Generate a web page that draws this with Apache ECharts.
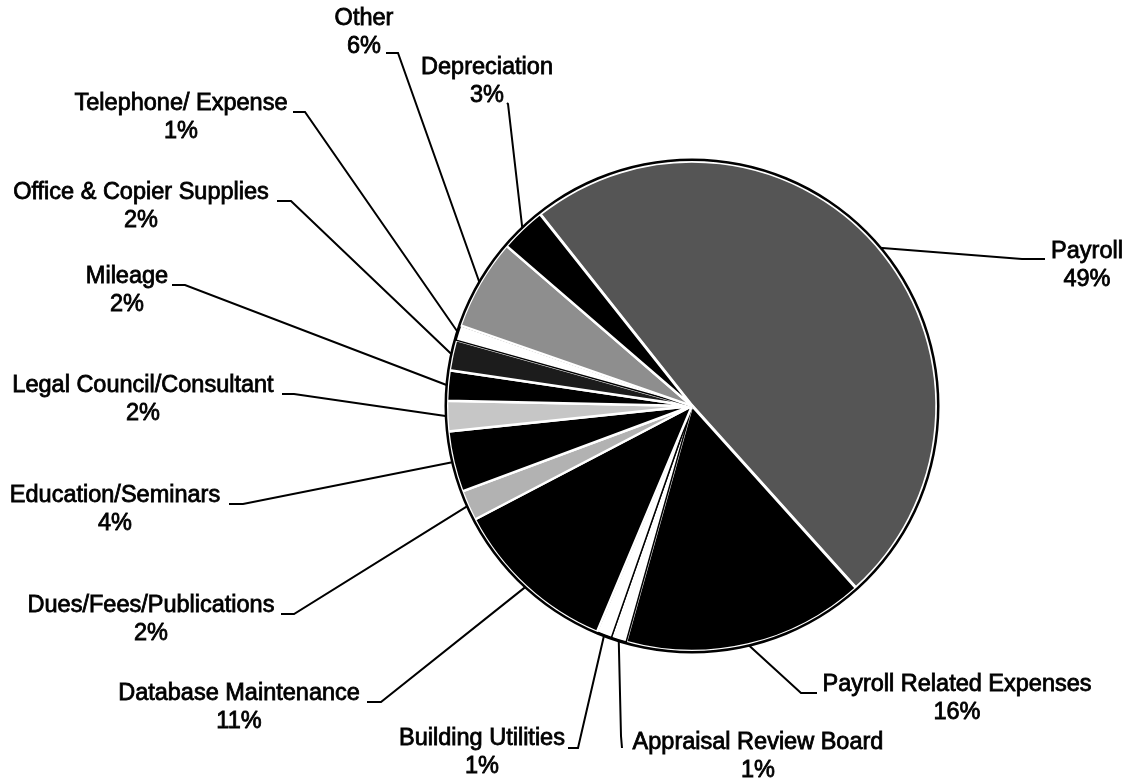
<!DOCTYPE html>
<html><head><meta charset="utf-8">
<script src="https://cdn.jsdelivr.net/npm/echarts@6/dist/echarts.min.js"></script>
<style>html,body{margin:0;padding:0;background:#fff}#c{width:1129px;height:780px}</style>
</head><body><div id="c"></div>
<script>
// Categories in clockwise order, starting with Payroll
const categories = ['Payroll','Payroll Related Expenses','Appraisal Review Board','Building Utilities','Database Maintenance','Dues/Fees/Publications','Education/Seminars','Legal Council/Consultant','Mileage','Office & Copier Supplies','Telephone/ Expense','Other','Depreciation'];
const percents = [49,16,1,1,11,2,4,2,2,2,1,6,3];
const sliceColors = ['#555555','#000000','#ffffff','#ffffff','#000000','#b2b2b2','#000000','#c6c6c6','#000000','#1c1c1c','#ffffff','#8e8e8e','#000000'];

// label placement (layout only): label block centre, leader elbow, leader end at text
const labelPlacement = [
  {cx:1087, cy:266,   elbow:[1022,259], end:[1045,259]},
  {cx:957,  cy:699,   elbow:[801,693],  end:[817,693]},
  {cx:758,  cy:757,   elbow:[621,736],  end:[622,748]},
  {cx:482,  cy:753,   elbow:[578,748],  end:[568,748]},
  {cx:239,  cy:707.5, elbow:[381,702],  end:[367,702]},
  {cx:151,  cy:619.5, elbow:[294,614],  end:[281,614]},
  {cx:115,  cy:510,   elbow:[243,504],  end:[229,504]},
  {cx:143,  cy:399.5, elbow:[294,394],  end:[282,394]},
  {cx:127,  cy:290.5, elbow:[185,285],  end:[172,285]},
  {cx:141,  cy:206.5, elbow:[291,201],  end:[277,201]},
  {cx:181,  cy:118,   elbow:[305,112],  end:[293,112]},
  {cx:364,  cy:33,    elbow:[398,53],   end:[386,53]},
  {cx:487,  cy:81.5,  elbow:[508,104],  end:[507,103]}
];

const pieData = categories.map((name, i) => {
  const white = sliceColors[i] === '#ffffff';
  return {
    name: name,
    value: percents[i],
    itemStyle: {
      color: sliceColors[i],
      borderColor: white ? '#000000' : '#ffffff',
      borderWidth: white ? 1.5 : (i === 0 ? 3.5 : 2.5)
    }
  };
});

const chart = echarts.init(document.getElementById('c'), null, {renderer:'canvas'});
chart.setOption({
  animation: false,
  backgroundColor: '#ffffff',
  series: [
    {
      type: 'pie',
      center: [692, 406],
      radius: [245, 247.5],
      silent: true,
      z: 3,
      label: {show:false},
      labelLine: {show:false},
      itemStyle: {color:'#000000', borderWidth:0},
      data: [{value:1, name:'rim'}]
    },
    {
      type: 'pie',
      center: [692, 406],
      radius: 245,
      startAngle: 128.4,
      clockwise: true,
      z: 2,
      data: pieData,
      label: {
        show: true,
        position: 'outside',
        formatter: p => p.name + '\n' + p.value + '%',
        fontFamily: '"Liberation Sans", Arial, sans-serif',
        fontSize: 23.5,
        lineHeight: 28,
        color: '#000000',
        textBorderColor: '#000000',
        textBorderWidth: 0.8,
        align: 'center'
      },
      labelLine: {
        show: true,
        length: 10,
        length2: 10,
        smooth: false,
        lineStyle: {color:'#000000', width:2}
      },
      labelLayout: function (params) {
        const p = labelPlacement[params.dataIndex];
        const pts = params.labelLinePoints;
        const edge = pts && pts.length ? pts[0] : p.elbow;
        return {
          x: p.cx,
          y: p.cy,
          align: 'center',
          verticalAlign: 'middle',
          labelLinePoints: [edge, p.elbow, p.end]
        };
      },
      emphasis: {disabled: true}
    }
  ]
});
</script>
</body></html>
